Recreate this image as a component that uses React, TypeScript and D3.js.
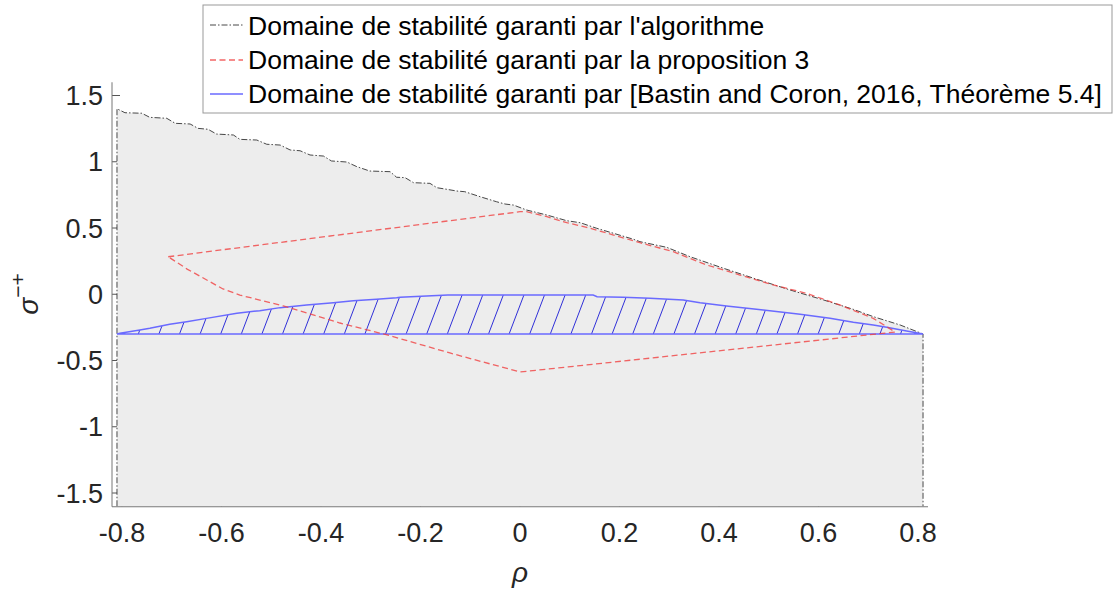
import React from "react";
import * as d3 from "d3";

// domaine garanti par l'algorithme (bord supérieur, en escalier)
const algoTop: [number, number][] = [
  [-0.81, 1.4], [-0.794, 1.37], [-0.76, 1.366], [-0.744, 1.335], [-0.71, 1.328],
  [-0.693, 1.29], [-0.663, 1.285], [-0.647, 1.252], [-0.627, 1.245], [-0.61, 1.209],
  [-0.576, 1.202], [-0.563, 1.169], [-0.529, 1.164], [-0.509, 1.132], [-0.482, 1.126],
  [-0.462, 1.089], [-0.442, 1.083], [-0.422, 1.051], [-0.395, 1.043], [-0.379, 1.006],
  [-0.348, 0.998], [-0.328, 0.963], [-0.302, 0.93], [-0.261, 0.925], [-0.248, 0.883],
  [-0.231, 0.88], [-0.214, 0.842], [-0.181, 0.837], [-0.167, 0.804], [-0.147, 0.792],
  [-0.127, 0.779], [-0.111, 0.774], [-0.08, 0.736], [-0.047, 0.698], [-0.03, 0.681],
  [-0.013, 0.673], [0.013, 0.636], [0.054, 0.598], [0.094, 0.555], [0.121, 0.54],
  [0.154, 0.498], [0.188, 0.46], [0.228, 0.415], [0.241, 0.397], [0.295, 0.354],
  [0.342, 0.283], [0.409, 0.196], [0.476, 0.113], [0.543, 0.032], [0.61, -0.043],
  [0.67, -0.114], [0.71, -0.169], [0.764, -0.232], [0.81, -0.3],
];
const algoBottom = -1.6;

// domaine garanti par la proposition 3
const propPolygon: [number, number][] = [
  [-0.707, 0.283], [0, 0.623], [0.013, 0.623], [0.054, 0.585], [0.094, 0.54],
  [0.134, 0.505], [0.188, 0.447], [0.241, 0.389], [0.308, 0.321], [0.375, 0.221],
  [0.442, 0.145], [0.509, 0.07], [0.576, 0.007], [0.643, -0.081], [0.71, -0.182],
  [0.754, -0.285], [0, -0.587], [-0.141, -0.443], [-0.267, -0.307], [-0.362, -0.217],
  [-0.476, -0.088], [-0.563, -0.006], [-0.597, 0.04], [-0.669, 0.19], [-0.707, 0.283],
];

// domaine [Bastin and Coron, 2016]
const bastinTop: [number, number][] = [
  [-0.81, -0.3], [-0.804, -0.295], [-0.764, -0.27], [-0.744, -0.257], [-0.704, -0.227],
  [-0.67, -0.207], [-0.63, -0.182], [-0.569, -0.144], [-0.523, -0.124], [-0.482, -0.101],
  [-0.429, -0.081], [-0.375, -0.064], [-0.335, -0.049], [-0.288, -0.038], [-0.248, -0.026],
  [-0.241, -0.023], [-0.145, -0.006], [0.147, -0.006], [0.155, -0.018], [0.207, -0.023],
  [0.261, -0.031], [0.328, -0.043], [0.362, -0.064], [0.415, -0.089], [0.489, -0.119],
  [0.563, -0.151], [0.623, -0.182], [0.67, -0.212], [0.71, -0.232], [0.737, -0.249],
  [0.777, -0.277], [0.81, -0.3],
];
const bastinBottom = -0.3;

const xTicks = [-0.8, -0.6, -0.4, -0.2, 0, 0.2, 0.4, 0.6, 0.8];
const yTicks = [1.5, 1, 0.5, 0, -0.5, -1, -1.5];
const legendLabels = [
  "Domaine de stabilité garanti par l'algorithme",
  "Domaine de stabilité garanti par la proposition 3",
  "Domaine de stabilité garanti par [Bastin and Coron, 2016, Théorème 5.4]",
];

const W = 1117;
const H = 590;
const font = "'Liberation Sans', Arial, sans-serif";

export default function App() {
  const x = d3.scaleLinear().domain([-0.82, 0.82]).range([112, 928]);
  const y = d3.scaleLinear().domain([-1.6, 1.6]).range([506.25, 82.25]);
  const line = d3.line<[number, number]>().x(d => x(d[0])).y(d => y(d[1]));

  const first = algoTop[0];
  const last = algoTop[algoTop.length - 1];
  const algoPts: [number, number][] = [[first[0], algoBottom], ...algoTop, [last[0], algoBottom]];
  const bastinPts: [number, number][] = [...bastinTop, [bastinTop[0][0], bastinBottom]];

  // hachures (motif en pixels)
  const yb = y(bastinBottom);
  const yt = y(0.05);
  const hatch: number[] = [];
  for (let h = 97.1; h < 940; h += 20.6) hatch.push(h);

  const fmt = (v: number) => (v === 0 ? "0" : String(v));

  return (
    <svg width={W} height={H} style={{ position: "absolute", left: 0, top: 0, background: "#fff" }}>
      <defs>
        <clipPath id="bastinClip">
          <path d={line(bastinPts) + "Z"} />
        </clipPath>
      </defs>

      {/* ticks under the data */}
      {yTicks.map(t => (
        <line key={"yt" + t} x1={112} x2={120} y1={y(t)} y2={y(t)} stroke="#555" strokeWidth={1} />
      ))}
      {xTicks.map(t => (
        <line key={"xt" + t} x1={x(t)} x2={x(t)} y1={506.25} y2={498} stroke="#555" strokeWidth={1} />
      ))}

      {/* algorithme */}
      <path d={line(algoPts) + "Z"} fill="#ededed" stroke="none" />
      <path d={line(algoPts)!} fill="none" stroke="#333" strokeWidth={0.9} strokeDasharray="6,2,1.5,2" />

      {/* Bastin & Coron */}
      <g clipPath="url(#bastinClip)">
        {hatch.map((h, i) => (
          <line key={"h" + i} x1={h} y1={yb} x2={h + 0.38 * (yb - yt)} y2={yt} stroke="#3030d8" strokeWidth={1} />
        ))}
      </g>
      <path d={line(bastinPts) + "Z"} fill="none" stroke="#6a6aff" strokeWidth={1.5} />

      {/* proposition 3 */}
      <path d={line(propPolygon)!} fill="none" stroke="#f04040" strokeOpacity={0.8} strokeWidth={1.3} strokeDasharray="6,3.5" />

      {/* axes */}
      <line x1={112} x2={112} y1={82.25} y2={506.75} stroke="#777" strokeWidth={1} />
      <line x1={112} x2={928} y1={506.75} y2={506.75} stroke="#777" strokeWidth={1} />

      {yTicks.map(t => (
        <text key={"yl" + t} x={103} y={y(t) + 9.5} textAnchor="end" fontFamily={font} fontSize={27} fill="#262626">
          {fmt(t)}
        </text>
      ))}
      {xTicks.map(t => (
        <text key={"xl" + t} x={x(t)} y={542} textAnchor="middle" fontFamily={font} fontSize={27} fill="#262626">
          {fmt(t)}
        </text>
      ))}

      <text x={520} y={582} textAnchor="middle" fontFamily={font} fontStyle="italic" fontSize={28} fill="#262626">
        ρ
      </text>
      <text transform="translate(38,294) rotate(-90)" textAnchor="middle" fontFamily={font} fill="#262626">
        <tspan fontStyle="italic" fontSize={28}>σ</tspan>
        <tspan fontSize={21} dy={-13}>−+</tspan>
      </text>

      {/* legend */}
      <rect x={203} y={5} width={909} height={108} fill="#fff" stroke="#999" strokeWidth={1} />
      <line x1={210} x2={243} y1={25} y2={25} stroke="#333" strokeWidth={0.9} strokeDasharray="6,2,1.5,2" />
      <line x1={210} x2={243} y1={60} y2={60} stroke="#f04040" strokeOpacity={0.8} strokeWidth={1.3} strokeDasharray="6,3.5" />
      <line x1={210} x2={243} y1={94} y2={94} stroke="#6a6aff" strokeWidth={1.5} />
      {legendLabels.map((l, i) => (
        <text key={l} x={248} y={35 + i * 34} fontFamily={font} fontSize={26.5} fill="#000">
          {l}
        </text>
      ))}
    </svg>
  );
}
